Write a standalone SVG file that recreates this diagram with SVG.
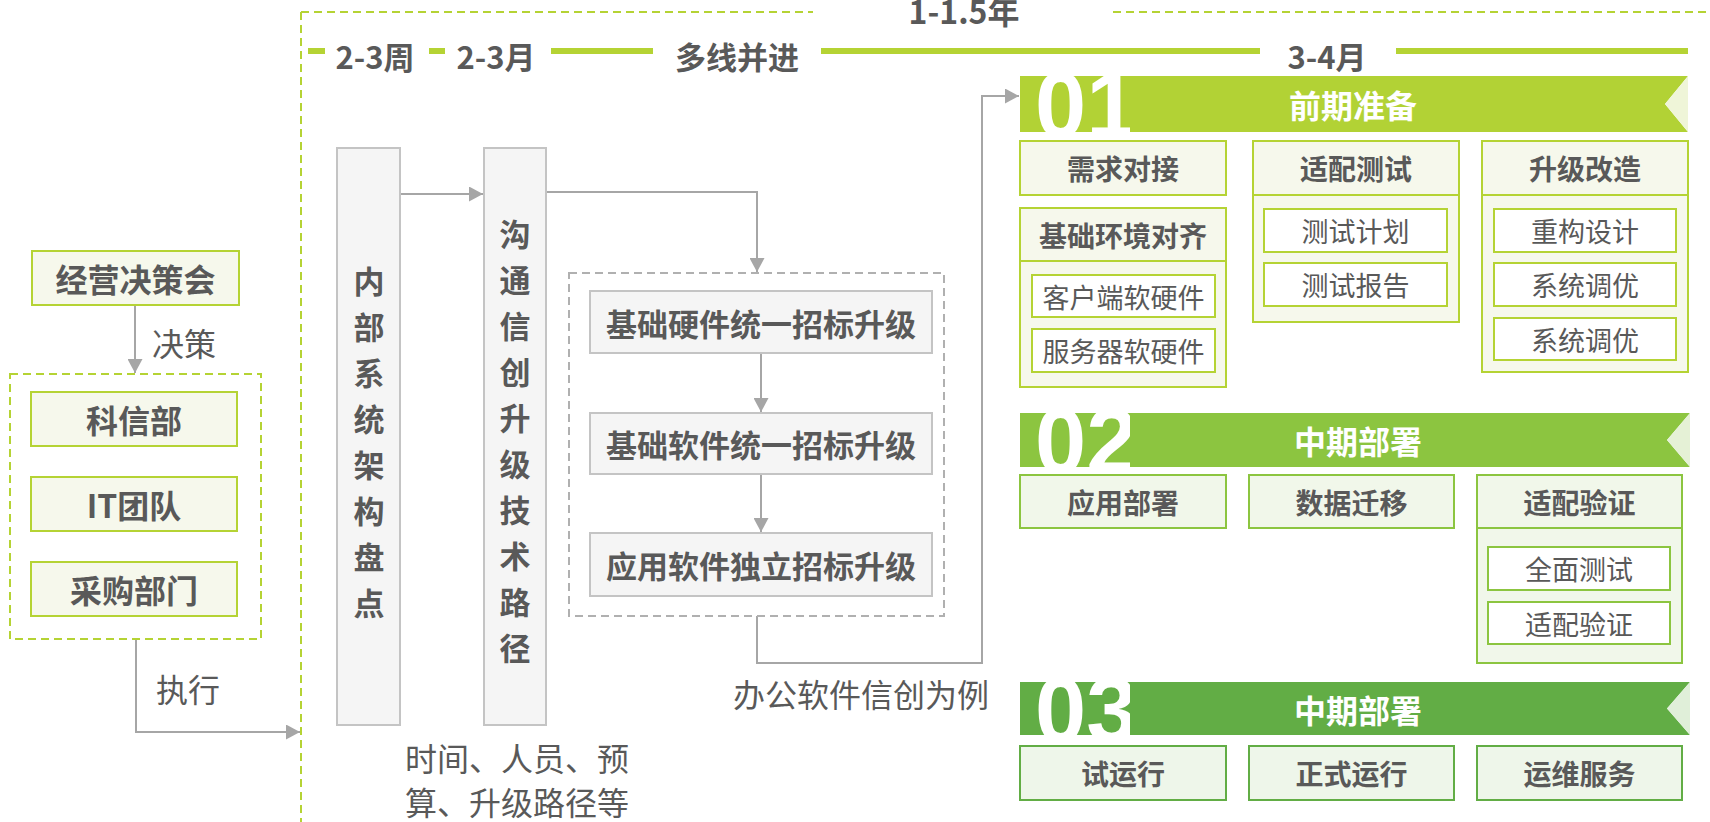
<svg xmlns="http://www.w3.org/2000/svg" width="1710" height="822" viewBox="0 0 1710 822">
<defs>
<style>
text{font-family:"Noto Sans CJK SC","Noto Sans",sans-serif;fill:#595959;dominant-baseline:central}
.b{font-weight:bold}
.c{text-anchor:middle}
.w{fill:#ffffff;font-weight:bold;text-anchor:middle}
.num{font-family:"Liberation Sans",Arial,sans-serif;font-weight:bold;fill:#ffffff;font-size:92px;dominant-baseline:auto}
.conn{fill:none;stroke:#a6a6a6;stroke-width:2}
.tl{stroke:#b5d334;stroke-width:6}
.dashG{fill:none;stroke:#b5d334;stroke-width:2;stroke-dasharray:8 5}
.dashK{fill:none;stroke:#b0b0b0;stroke-width:2;stroke-dasharray:8 5}
.box1{fill:#f6f8ec;stroke:#b5d334;stroke-width:2}
.in1{fill:#ffffff;stroke:#b5d334;stroke-width:2}
.box2{fill:#f1f7ea;stroke:#8cc540;stroke-width:2}
.in2{fill:#ffffff;stroke:#8cc540;stroke-width:2}
.box3{fill:#eef6ea;stroke:#62ad45;stroke-width:2}
.gbox{fill:#f5f5f5;stroke:#c4c4c4;stroke-width:2}
</style>
<marker id="ah" markerUnits="userSpaceOnUse" markerWidth="14" markerHeight="15" refX="14" refY="7.5" orient="auto">
<path d="M0,0 L14,7.5 L0,15 z" fill="#a6a6a6"/>
</marker>
<clipPath id="cb1"><rect x="1020" y="76" width="110" height="56"/></clipPath>
<clipPath id="cb2"><rect x="1020" y="413" width="110" height="54"/></clipPath>
<clipPath id="cb3"><rect x="1020" y="682" width="110" height="53"/></clipPath>
</defs>

<g id="timeline">
<line x1="301" y1="12" x2="301" y2="822" class="dashG"/>
<line x1="301" y1="12" x2="813" y2="12" class="dashG"/>
<line x1="1113" y1="12" x2="1710" y2="12" class="dashG"/>
<text x="964" y="10" class="b c" font-size="32">1-1.5年</text>
<line x1="308" y1="51" x2="325" y2="51" class="tl"/>
<line x1="429" y1="51" x2="445" y2="51" class="tl"/>
<line x1="551" y1="51" x2="653" y2="51" class="tl"/>
<line x1="821" y1="51" x2="1260" y2="51" class="tl"/>
<line x1="1396" y1="51" x2="1688" y2="51" class="tl"/>
<text x="375" y="55" class="b c" font-size="31">2-3周</text>
<text x="496" y="55" class="b c" font-size="31">2-3月</text>
<text x="737" y="55" class="b c" font-size="31">多线并进</text>
<text x="1327" y="55" class="b c" font-size="31">3-4月</text>
</g>

<g id="connectors">
<line x1="135" y1="305" x2="135" y2="373" class="conn" marker-end="url(#ah)"/>
<path d="M136 639 V732 H300" class="conn" marker-end="url(#ah)"/>
<line x1="400" y1="194" x2="483" y2="194" class="conn" marker-end="url(#ah)"/>
<path d="M546 192 H757 V272" class="conn" marker-end="url(#ah)"/>
<line x1="761" y1="353" x2="761" y2="412" class="conn" marker-end="url(#ah)"/>
<line x1="761" y1="474" x2="761" y2="532" class="conn" marker-end="url(#ah)"/>
<path d="M757 616 V663 H982 V96 H1019" class="conn" marker-end="url(#ah)"/>
<text x="152" y="342" font-size="32">决策</text>
<text x="156" y="688" font-size="32">执行</text>
<text x="733" y="693" font-size="32">办公软件信创为例</text>
</g>

<g id="n-decision">
<rect x="32" y="251" width="207" height="54" class="box1"/>
<text x="135.5" y="278" class="b c" font-size="32">经营决策会</text>
</g>
<g id="n-exec-group">
<rect x="10" y="374" width="251" height="265" class="dashG"/>
</g>
<g id="n-kexin">
<rect x="31" y="392" width="206" height="54" class="box1"/>
<text x="134" y="419" class="b c" font-size="32">科信部</text>
</g>
<g id="n-it">
<rect x="31" y="477" width="206" height="54" class="box1"/>
<text x="134" y="504" class="b c" font-size="32">IT团队</text>
</g>
<g id="n-purchase">
<rect x="31" y="562" width="206" height="54" class="box1"/>
<text x="134" y="589" class="b c" font-size="32">采购部门</text>
</g>

<g id="n-inventory">
<rect x="337" y="148" width="63" height="577" class="gbox"/>
<g font-size="31">
<text x="369" y="279" class="b c">内</text>
<text x="369" y="325" class="b c">部</text>
<text x="369" y="371" class="b c">系</text>
<text x="369" y="417" class="b c">统</text>
<text x="369" y="463" class="b c">架</text>
<text x="369" y="509" class="b c">构</text>
<text x="369" y="555" class="b c">盘</text>
<text x="369" y="601" class="b c">点</text>
</g>
</g>
<g id="n-path">
<rect x="484" y="148" width="62" height="577" class="gbox"/>
<g font-size="31">
<text x="515" y="232" class="b c">沟</text>
<text x="515" y="278" class="b c">通</text>
<text x="515" y="324" class="b c">信</text>
<text x="515" y="370" class="b c">创</text>
<text x="515" y="416" class="b c">升</text>
<text x="515" y="462" class="b c">级</text>
<text x="515" y="508" class="b c">技</text>
<text x="515" y="554" class="b c">术</text>
<text x="515" y="600" class="b c">路</text>
<text x="515" y="646" class="b c">径</text>
</g>
</g>
<g id="n-path-note">
<text x="405" y="757" font-size="32">时间、人员、预</text>
<text x="405" y="801" font-size="32">算、升级路径等</text>
</g>

<g id="n-tender-group">
<rect x="569" y="273" width="375" height="343" class="dashK"/>
</g>
<g id="n-hw">
<rect x="590" y="291" width="342" height="62" class="gbox"/>
<text x="761" y="322" class="b c" font-size="31">基础硬件统一招标升级</text>
</g>
<g id="n-sw">
<rect x="590" y="413" width="342" height="61" class="gbox"/>
<text x="761" y="443.5" class="b c" font-size="31">基础软件统一招标升级</text>
</g>
<g id="n-app">
<rect x="590" y="533" width="342" height="63" class="gbox"/>
<text x="761" y="564.5" class="b c" font-size="31">应用软件独立招标升级</text>
</g>

<g id="n-phase1">
<polygon points="1020,76 1688,76 1665,104 1688,132 1020,132" fill="#b2d235"/>
<polygon points="1665,104 1688,76 1688,132" fill="#eff5d8"/>
<text x="1035" y="137" class="num" clip-path="url(#cb1)">01</text>
<text x="1353" y="104" class="w" font-size="32">前期准备</text>
</g>
<g id="n-req">
<rect x="1020" y="141" width="206" height="54" class="box1"/>
<text x="1123" y="168" class="b c" font-size="28">需求对接</text>
</g>
<g id="n-env">
<rect x="1020" y="208" width="206" height="179" class="box1"/>
<rect x="1020" y="208" width="206" height="53" class="box1"/>
<text x="1123" y="235" class="b c" font-size="28">基础环境对齐</text>
<rect x="1032" y="275" width="183" height="42" class="in1"/>
<text x="1123.5" y="296" class="c" font-size="27">客户端软硬件</text>
<rect x="1032" y="329" width="183" height="43" class="in1"/>
<text x="1123.5" y="350.5" class="c" font-size="27">服务器软硬件</text>
</g>
<g id="n-adapt-test">
<rect x="1253" y="141" width="206" height="181" class="box1"/>
<rect x="1253" y="141" width="206" height="54" class="box1"/>
<text x="1356" y="168" class="b c" font-size="28">适配测试</text>
<rect x="1264" y="209" width="183" height="43" class="in1"/>
<text x="1355.5" y="230.5" class="c" font-size="27">测试计划</text>
<rect x="1264" y="263" width="183" height="43" class="in1"/>
<text x="1355.5" y="284.5" class="c" font-size="27">测试报告</text>
</g>
<g id="n-upgrade">
<rect x="1482" y="141" width="206" height="231" class="box1"/>
<rect x="1482" y="141" width="206" height="54" class="box1"/>
<text x="1585" y="168" class="b c" font-size="28">升级改造</text>
<rect x="1494" y="209" width="182" height="43" class="in1"/>
<text x="1585" y="230.5" class="c" font-size="27">重构设计</text>
<rect x="1494" y="263" width="182" height="43" class="in1"/>
<text x="1585" y="284.5" class="c" font-size="27">系统调优</text>
<rect x="1494" y="318" width="182" height="42" class="in1"/>
<text x="1585" y="339" class="c" font-size="27">系统调优</text>
</g>

<g id="n-phase2">
<polygon points="1020,413 1690,413 1667,440 1690,467 1020,467" fill="#8cc540"/>
<polygon points="1667,440 1690,413 1690,467" fill="#e5f1d6"/>
<text x="1035" y="473" class="num" clip-path="url(#cb2)">02</text>
<text x="1358" y="440" class="w" font-size="32">中期部署</text>
</g>
<g id="n-deploy">
<rect x="1020" y="475" width="206" height="53" class="box2"/>
<text x="1123" y="501.5" class="b c" font-size="28">应用部署</text>
</g>
<g id="n-migrate">
<rect x="1249" y="475" width="205" height="53" class="box2"/>
<text x="1351.5" y="501.5" class="b c" font-size="28">数据迁移</text>
</g>
<g id="n-verify">
<rect x="1477" y="475" width="205" height="188" class="box2"/>
<rect x="1477" y="475" width="205" height="53" class="box2"/>
<text x="1579.5" y="501.5" class="b c" font-size="28">适配验证</text>
<rect x="1488" y="547" width="182" height="43" class="in2"/>
<text x="1579" y="568.5" class="c" font-size="27">全面测试</text>
<rect x="1488" y="602" width="182" height="42" class="in2"/>
<text x="1579" y="623" class="c" font-size="27">适配验证</text>
</g>

<g id="n-phase3">
<polygon points="1020,682 1690,682 1667,708.5 1690,735 1020,735" fill="#62ad45"/>
<polygon points="1667,708.5 1690,682 1690,735" fill="#e0efd9"/>
<text x="1035" y="742" class="num" clip-path="url(#cb3)">03</text>
<text x="1358" y="709" class="w" font-size="32">中期部署</text>
</g>
<g id="n-trial">
<rect x="1020" y="746" width="206" height="54" class="box3"/>
<text x="1123" y="773" class="b c" font-size="28">试运行</text>
</g>
<g id="n-formal">
<rect x="1249" y="746" width="205" height="54" class="box3"/>
<text x="1351.5" y="773" class="b c" font-size="28">正式运行</text>
</g>
<g id="n-ops">
<rect x="1477" y="746" width="205" height="54" class="box3"/>
<text x="1579.5" y="773" class="b c" font-size="28">运维服务</text>
</g>
</svg>
